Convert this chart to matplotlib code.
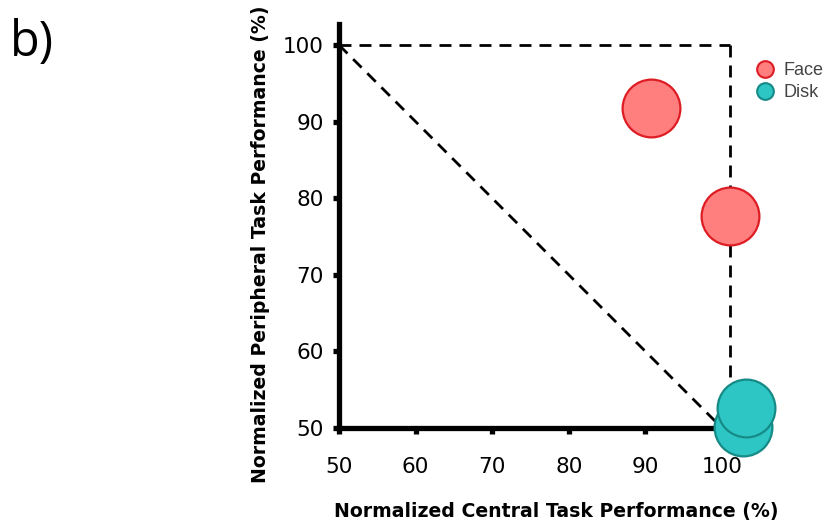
import matplotlib
matplotlib.use("Agg")
import matplotlib.pyplot as plt
from matplotlib.lines import Line2D

# data
face_x = [90.7, 101.0]
face_y = [91.8, 77.7]
disk_x = [102.7, 103.1]
disk_y = [50.1, 52.6]

x_ticks = [50, 60, 70, 80, 90, 100]
y_ticks = [50, 60, 70, 80, 90, 100]

FACE_FILL = "#FF7E7E"
FACE_EDGE = "#DE1C24"
DISK_FILL = "#2EC6C4"
DISK_EDGE = "#158A86"

fig = plt.figure(figsize=(8.3, 5.29), dpi=100)
# axes placed so that 50..100 matches the reference pixel positions
px = 7.66
left, bottom = 339, 428
ax = fig.add_axes([left / 830, (529 - bottom) / 529, 53 * px / 830, 52.8 * px / 529])
ax.set_xlim(50, 103)
ax.set_ylim(50, 102.8)

dash = (0, (4.3, 2.9))
ax.plot([50, 101], [100, 100], color="black", linestyle=dash, linewidth=2, zorder=1)
ax.plot([101, 101], [100, 50], color="black", linestyle=dash, linewidth=2, zorder=1)
ax.plot([50, 100], [100, 50], color="black", linestyle=dash, linewidth=2, zorder=1)

ax.scatter(face_x, face_y, s=1730, facecolor=FACE_FILL, edgecolor=FACE_EDGE,
           linewidth=1.6, zorder=5, clip_on=False)
ax.scatter(disk_x, disk_y, s=1730, facecolor=DISK_FILL, edgecolor=DISK_EDGE,
           linewidth=1.6, zorder=5, clip_on=False)

for side in ["top", "right"]:
    ax.spines[side].set_visible(False)
for side in ["left", "bottom"]:
    ax.spines[side].set_linewidth(3.8)

ax.set_xticks(x_ticks)
ax.set_yticks(y_ticks)
ax.tick_params(axis="both", length=4, width=3.8, labelsize=15.5)
ax.tick_params(axis="x", pad=17)
ax.tick_params(axis="y", pad=7)
for lab in ax.get_xticklabels() + ax.get_yticklabels():
    lab.set_family("DejaVu Sans")

fig.text(556 / 830, 1 - 512 / 529, "Normalized Central Task Performance (%)", fontsize=13.6,
         fontweight="bold", family="DejaVu Sans", ha="center", va="center")
fig.text(261 / 830, 1 - 244 / 529, "Normalized Peripheral Task Performance (%)", fontsize=13.6,
         fontweight="bold", family="DejaVu Sans", ha="center", va="center", rotation=90)

handles = [
    Line2D([], [], marker="o", linestyle="none", markersize=12,
           markerfacecolor=FACE_FILL, markeredgecolor=FACE_EDGE, markeredgewidth=1.5, label="Face"),
    Line2D([], [], marker="o", linestyle="none", markersize=12,
           markerfacecolor=DISK_FILL, markeredgecolor=DISK_EDGE, markeredgewidth=1.5, label="Disk"),
]
leg = ax.legend(handles=handles, loc="upper left", bbox_to_anchor=(1.027, 0.905),
                frameon=False, handlelength=1, handletextpad=0.5, labelspacing=0.3, borderpad=0,
                borderaxespad=0, prop={"family": "Liberation Sans", "size": 13})
for t in leg.get_texts():
    t.set_color("#444444")

fig.text(0.012, 0.965, "b)", fontsize=35, family="Open Sans", va="top", ha="left")

fig.savefig("out.png", dpi=100)
